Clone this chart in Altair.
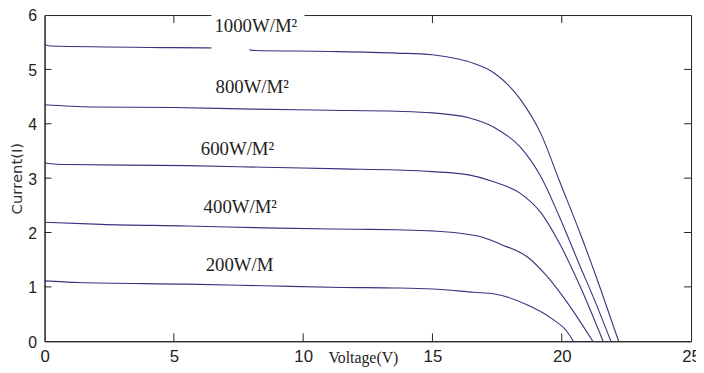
import altair as alt
import pandas as pd

# ---- data (Voltage V, Current I) ----
v_1000 = [0, 0.25, 5.0, 7.9, 8.0, 11.0, 13.6, 15.0, 16.0, 16.6, 17.4, 18.4, 19.2, 19.9, 20.7, 21.5, 22.2]
i_1000 = [5.46, 5.43, 5.40, 5.39, 5.35, 5.33, 5.30, 5.27, 5.19, 5.11, 4.93, 4.45, 3.81, 2.96, 2.00, 0.96, 0.0]

v_800 = [0, 1.8, 5.0, 8.0, 11.0, 13.6, 15.0, 16.4, 17.4, 18.4, 19.2, 19.9, 20.7, 21.3, 21.9]
i_800 = [4.35, 4.31, 4.30, 4.27, 4.25, 4.23, 4.20, 4.11, 3.93, 3.57, 3.02, 2.30, 1.39, 0.72, 0.0]

v_600 = [0, 0.8, 5.5, 8.5, 11.5, 13.6, 15.0, 16.4, 17.4, 18.4, 19.2, 19.9, 20.7, 21.6]
i_600 = [3.28, 3.25, 3.23, 3.20, 3.17, 3.15, 3.12, 3.06, 2.93, 2.72, 2.36, 1.81, 1.02, 0.0]

v_400 = [0, 2.2, 5.5, 9.0, 12.0, 13.6, 15.0, 16.8, 17.65, 18.7, 19.4, 20.2, 21.2]
i_400 = [2.19, 2.15, 2.12, 2.08, 2.06, 2.05, 2.03, 1.93, 1.78, 1.54, 1.21, 0.72, 0.0]

v_200 = [0, 1.3, 5.5, 8.5, 11.5, 13.6, 15.0, 16.6, 17.4, 18.7, 19.6, 20.2, 20.45]
i_200 = [1.11, 1.08, 1.05, 1.02, 0.99, 0.98, 0.96, 0.90, 0.87, 0.66, 0.42, 0.18, 0.0]

curve_names = ["1000", "800", "600", "400", "200"]
curve_v = [v_1000, v_800, v_600, v_400, v_200]
curve_i = [i_1000, i_800, i_600, i_400, i_200]

label_texts = ["1000W/M²", "800W/M²", "600W/M²", "400W/M²", "200W/M"]
label_v = [6.57, 6.61, 6.04, 6.15, 6.23]
label_i = [5.68, 4.57, 3.42, 2.36, 1.30]

x_ticks = [5, 10, 15, 20]
y_ticks = [1, 2, 3, 4, 5]
x_labels = [0, 5, 10, 15, 20, 25]
y_labels = [0, 1, 2, 3, 4, 5, 6]

W, H = 654, 330
X_MIN, X_MAX, Y_MIN, Y_MAX = 0, 25, 0, 6
LINE = "#34347f"
NUM_FONT = "Liberation Sans"

# inward tick lengths in pixels, converted to data units
TX = 8 * (Y_MAX - Y_MIN) / H     # vertical ticks on the x edges
TY = 7 * (X_MAX - X_MIN) / W     # horizontal ticks on the y edges

rows = []
for name, vs, iv in zip(curve_names, curve_v, curve_i):
    for v, i in zip(vs, iv):
        rows.append({"series": name, "V": v, "I": i})
df = pd.DataFrame(rows)

lab = pd.DataFrame({"text": label_texts, "V": label_v, "I": label_i})
xt = pd.DataFrame({"t": x_ticks})
yt = pd.DataFrame({"t": y_ticks})

xscale = alt.Scale(domain=[X_MIN, X_MAX], nice=False, zero=False)
yscale = alt.Scale(domain=[Y_MIN, Y_MAX], nice=False, zero=False)

xaxis = alt.Axis(
    values=x_labels, format="d", ticks=False, grid=False, labelFlush=False,
    labelFont=NUM_FONT, labelFontSize=17, labelColor="#222", labelPadding=7,
    domainColor="#222", title="Voltage(V)", titleFont="Liberation Serif",
    titleFontSize=16, titleFontWeight="normal", titleColor="#222",
    titleX=322, titleY=21, titleAlign="center", titleBaseline="alphabetic",
)
yaxis = alt.Axis(
    values=y_labels, format="d", ticks=False, grid=False, labelFlush=False,
    labelFont=NUM_FONT, labelFontSize=16, labelColor="#222", labelPadding=8,
    labelOffset=1,
    domainColor="#222", title="Current(I)", titleFont="DejaVu Sans",
    titleFontSize=15, titleFontWeight="normal", titleColor="#333",
    titleX=-28, titleY=165, titleAngle=270, titleAlign="center",
    titleBaseline="middle",
)

lines = alt.Chart(df).mark_line(
    color=LINE, strokeWidth=1.1, interpolate="monotone"
).encode(
    x=alt.X("V:Q", scale=xscale, axis=xaxis),
    y=alt.Y("I:Q", scale=yscale, axis=yaxis),
    detail="series:N",
    order="V:Q",
)

tick_color = "#222"
bottom_ticks = alt.Chart(xt).mark_rule(color=tick_color, strokeWidth=1).encode(
    x=alt.X("t:Q", scale=xscale),
    y=alt.datum(Y_MIN, scale=yscale), y2=alt.datum(Y_MIN + TX))
top_ticks = alt.Chart(xt).mark_rule(color=tick_color, strokeWidth=1).encode(
    x=alt.X("t:Q", scale=xscale),
    y=alt.datum(Y_MAX, scale=yscale), y2=alt.datum(Y_MAX - TX))
left_ticks = alt.Chart(yt).mark_rule(color=tick_color, strokeWidth=1).encode(
    y=alt.Y("t:Q", scale=yscale),
    x=alt.datum(X_MIN, scale=xscale), x2=alt.datum(X_MIN + TY))
right_ticks = alt.Chart(yt).mark_rule(color=tick_color, strokeWidth=1).encode(
    y=alt.Y("t:Q", scale=yscale),
    x=alt.datum(X_MAX, scale=xscale), x2=alt.datum(X_MAX - TY))

# white box behind the top label (hides the frame and part of the curve)
box = alt.Chart(pd.DataFrame({"a": [0]})).mark_rect(color="white").encode(
    x=alt.datum(6.45, scale=xscale), x2=alt.datum(10.05),
    y=alt.datum(5.375, scale=yscale), y2=alt.datum(6.05),
)

texts = alt.Chart(lab).mark_text(
    font="Liberation Serif", fontSize=19, align="left", baseline="alphabetic",
    color="#222",
).encode(
    x=alt.X("V:Q", scale=xscale), y=alt.Y("I:Q", scale=yscale), text="text:N")

chart = alt.layer(
    lines, bottom_ticks, top_ticks, left_ticks, right_ticks, box, texts
).properties(
    width=W, height=H,
    autosize=alt.AutoSizeParams(type="none"),
    padding={"left": 37, "top": 5, "right": 5, "bottom": 30},
    background="white",
).configure_view(stroke="#222", strokeWidth=1)

chart.save("out.html", embed_options={"renderer": "svg", "actions": False})
